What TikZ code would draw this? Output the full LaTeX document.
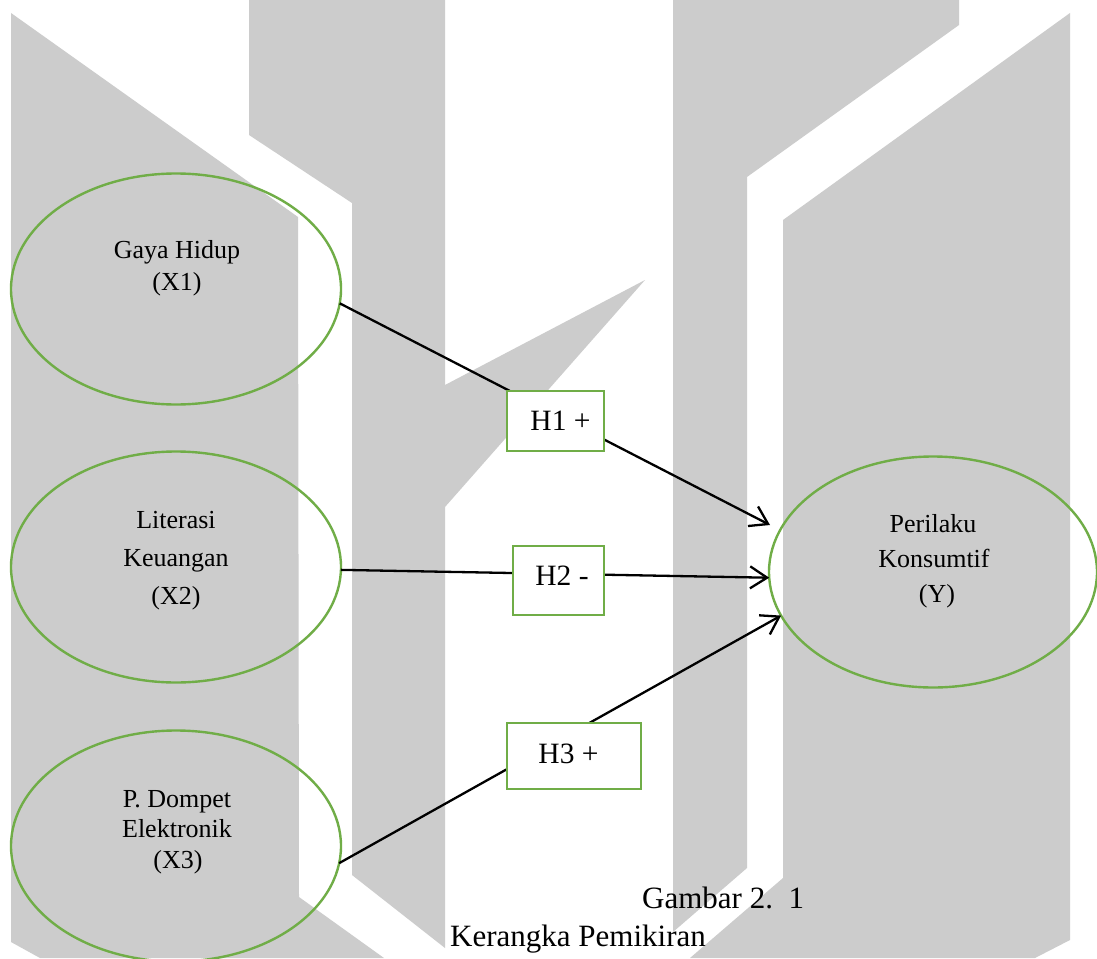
\documentclass[tikz,border=0pt]{standalone}
\usepackage{fontspec}
\setmainfont{Liberation Serif}
\usetikzlibrary{shapes.geometric,arrows.meta}
\definecolor{wmgrey}{RGB}{204,204,204}
\definecolor{leaf}{RGB}{112,173,71}
\begin{document}
\begin{tikzpicture}[x=1pt,y=-1pt,
  varellipse/.style={shape=ellipse,draw=leaf,line width=2.4pt,inner sep=0pt,outer sep=0pt,
    minimum width=330pt,minimum height=231pt},
  hypbox/.style={shape=rectangle,draw=leaf,fill=white,line width=2.8pt,inner sep=0pt,outer sep=0pt},
  conn/.style={line width=2.3pt,-{Straight Barb[length=17pt,width=22pt]}},
  vtext/.style={inner sep=0pt,anchor=base,font=\fontsize{26}{30}\selectfont},
  htext/.style={inner sep=0pt,anchor=base,font=\fontsize{29.5}{34}\selectfont},
  captext/.style={inner sep=0pt,anchor=base west,font=\fontsize{31}{36}\selectfont}]
\useasboundingbox (0,0) rectangle (1097,958);
\fill[white] (0,0) rectangle (1097,958);

% background logo shapes
\fill[wmgrey] (11,13) -- (298,217) -- (299,897) -- (384,958) -- (40,958) -- (11,942) -- cycle;
\fill[wmgrey] (249,0) -- (445,0) -- (445,948) -- (352,875) -- (352,203) -- (249,135) -- cycle;
\fill[wmgrey] (445,385) -- (645,280) -- (445,507) -- cycle;
\fill[wmgrey] (673,0) -- (959,0) -- (959,25) -- (747,177) -- (747,868) -- (673,932) -- cycle;
\fill[wmgrey] (1070,13) -- (1070,940) -- (1035,958) -- (690,958) -- (783,878) -- (783,220) -- cycle;

% variables
\node[varellipse] (X1) at (176,289) {};
\node[varellipse] (X2) at (176,567) {};
\node[varellipse] (X3) at (176,846) {};
\node[varellipse,minimum width=328pt] (Y) at (933,572) {};

% connectors
\coordinate (t1) at (770,525);
\draw[conn] (X1.-5) -- (t1);
\draw[conn] (X2.-1) -- (Y.182);
\draw[conn] (X3.-6) -- (Y.196);

% hypothesis boxes
\node[hypbox,minimum width=97pt,minimum height=60pt] (H1) at (555.5,421) {};
\node[hypbox,minimum width=91pt,minimum height=69pt] (H2) at (558.5,580.5) {};
\node[hypbox,minimum width=134pt,minimum height=66pt] (H3) at (574,756) {};

% labels
\node[vtext] (x1a) at (177,258) {Gaya Hidup};
\node[vtext] (x1b) at (177,290) {(X1)};
\node[vtext] (x2a) at (176,528) {Literasi};
\node[vtext] (x2b) at (176,566) {Keuangan};
\node[vtext] (x2c) at (176,604) {(X2)};
\node[vtext] (x3a) at (177,807) {P. Dompet};
\node[vtext] (x3b) at (177,837) {Elektronik};
\node[vtext] (x3c) at (178,868) {(X3)};
\node[vtext] (ya) at (933,532) {Perilaku};
\node[vtext] (yb) at (934,567) {Konsumtif};
\node[vtext] (yc) at (937,602) {(Y)};

\node[htext] (h1t) at (560.5,430) {H1 +};
\node[htext] (h2t) at (562,585) {H2 -};
\node[htext] (h3t) at (568.5,763) {H3 +};

\node[captext] (cap1) at (642,908) {Gambar 2.\ \ 1};
\node[captext] (cap2) at (450,946) {Kerangka Pemikiran};
\end{tikzpicture}
\end{document}
